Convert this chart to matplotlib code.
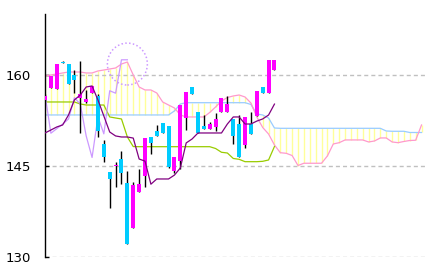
import matplotlib
matplotlib.use("Agg")
import matplotlib.pyplot as plt
from matplotlib.patches import Ellipse
import numpy as np

# candles (index 0..39)
opens = [155.9, 157.8, 157.7, 162.2, 161.8, 160.0, 156.2, 155.6, 157.0, 156.6,
         148.7, 144.0, 144.95, 146.2, 142.2, 134.8, 140.7, 143.4, 149.7, 150.8,
         152.1, 151.6, 144.1, 145.9, 152.9, 158.0, 153.85, 151.6, 151.15, 151.4,
         153.85, 153.95, 152.75, 151.9, 148.45, 151.9, 153.2, 158.1, 157.0, 160.8]
highs = [156.8, 159.9, 161.8, 162.3, 161.8, 160.8, 162.3, 157.5, 158.2, 156.8,
         149.3, 144.0, 145.7, 147.4, 144.1, 142.3, 144.5, 149.6, 149.7, 151.8,
         152.1, 151.6, 146.5, 155.0, 157.2, 158.0, 153.85, 153.4, 152.3, 153.7,
         156.25, 156.5, 152.75, 153.4, 153.1, 153.9, 157.4, 158.1, 162.5, 162.5]
lows = [155.7, 157.8, 157.7, 161.9, 158.5, 157.0, 150.4, 155.4, 157.0, 149.8,
        145.6, 138.1, 141.6, 142.0, 132.2, 134.8, 140.7, 141.5, 147.0, 149.9,
        150.4, 144.7, 143.9, 144.5, 150.9, 156.8, 150.4, 151.15, 151.15, 150.7,
        153.85, 153.95, 148.6, 146.4, 147.9, 150.3, 153.2, 157.0, 157.0, 160.8]
closes = [156.6, 159.9, 161.8, 161.95, 158.5, 159.2, 156.9, 156.0, 158.2, 150.8,
          146.5, 142.9, 145.15, 143.9, 132.2, 141.9, 142.1, 149.6, 148.8, 149.9,
          150.4, 144.9, 146.5, 155.0, 157.2, 156.8, 150.4, 151.15, 151.9, 152.75,
          156.25, 155.2, 149.95, 146.4, 153.1, 150.3, 157.4, 157.0, 162.5, 162.5]

# conversion / base lines (index 0..39)
tenkan = [150.44, 150.93, 151.43, 151.76, 153.41, 155.89, 156.70, 158.02, 158.19, 155.88,
          153.24, 150.60, 149.95, 149.78, 149.78, 149.60, 146.15, 145.80, 142.00, 142.86,
          142.86, 142.86, 143.50, 144.67, 148.80, 149.45, 150.44, 150.44, 150.44, 150.44,
          150.44, 151.92, 153.08, 153.08, 151.92, 151.92, 152.40, 152.75, 153.40, 155.20]
kijun = [155.55, 155.55, 155.55, 155.55, 155.55, 155.55, 155.22, 155.05, 155.05, 155.05,
         155.05, 153.08, 152.91, 152.75, 149.78, 148.20, 148.18, 148.18, 148.18, 148.18,
         148.18, 148.18, 148.18, 148.18, 148.18, 148.18, 148.18, 148.18, 148.18, 147.88,
         147.26, 147.14, 146.24, 146.10, 145.71, 145.71, 145.71, 145.77, 145.99, 148.21]

# leading spans (index 0..64)
span_a = [153.41] * 22 + [154.07, 155.22] + [155.43] * 11 + \
         [155.14, 153.57, 153.41, 152.91, 151.26] + [151.21] * 18 + \
         [150.77, 150.72, 150.72, 150.72, 150.52, 150.52, 150.52]
span_b = [159.83, 160.00, 160.16, 160.33, 160.49, 160.49, 160.49, 160.33, 160.33, 160.66,
          160.82, 160.99, 161.15, 161.81, 162.14, 160.00, 158.02, 157.53, 157.53, 157.03,
          155.55, 155.05, 154.56, 153.41, 153.08, 153.08, 153.08, 153.08, 153.82, 154.73,
          155.71, 156.29, 156.54, 156.70, 156.37, 155.38, 153.08, 151.35, 150.27, 148.46,
          147.19, 147.09, 146.73, 145.08, 145.45, 145.45, 145.45, 145.45, 146.65, 148.63,
          148.84, 149.29, 149.29, 149.29, 149.29, 148.96, 149.12, 149.62, 149.62, 148.96,
          148.84, 149.04, 149.20, 149.24, 151.76]
lag = 25
yticks = [130, 145, 160]

opens = np.array(opens); closes = np.array(closes)
idx = np.arange(len(opens))
cloud_idx = np.arange(len(span_a))
chikou = closes[lag:]
chikou_idx = np.arange(len(chikou))

fig = plt.figure(figsize=(4.32, 2.71), dpi=100)
ax = fig.add_axes([45 / 432, 14 / 271, 383 / 432, 242.7 / 271])

# cloud hatching
ax.vlines(cloud_idx, span_a, span_b, color="#ffff99", lw=1, zorder=1)
for y in yticks:
    ax.axhline(y, color="#c0c0c0", lw=1, dashes=(2.9, 2.2), zorder=1.5)

ax.plot(cloud_idx, span_a, color="#99ccff", lw=0.9, zorder=2)
ax.plot(cloud_idx, span_b, color="#ff99cc", lw=0.9, zorder=2)
ax.plot(idx, kijun, color="#99cc00", lw=0.9, zorder=2)
ax.plot(chikou_idx, chikou, color="#cc99ff", lw=0.9, zorder=2)

# candles
ax.vlines(idx, lows, highs, color="black", lw=1, zorder=3)
cols = np.where(closes >= opens, "#ff00ff", "#00ccff")
ax.bar(idx, closes - opens, bottom=opens, width=0.68, color=cols, lw=0, zorder=4)
ax.plot(idx, tenkan, color="#800080", lw=0.9, zorder=5)

# circle round the end of the lagging line
ax.add_patch(Ellipse((chikou_idx[-1], 161.8), 6.8, 6.9, fill=False,
                     ec="#cc99ff", lw=1.1, ls=(0, (1, 1.5)), zorder=6))

ax.set_xlim(0, 65.1)
ax.set_ylim(130, 170)
ax.set_yticks(yticks)
ax.set_yticklabels([str(t) for t in yticks],
                   family=["Liberation Sans Narrow", "DejaVu Sans Condensed", "DejaVu Sans"],
                   fontsize=9.5)
ax.tick_params(axis="y", direction="in", length=3, width=1, pad=10)
ax.set_xticks([])
for s in ["top", "right", "bottom"]:
    ax.spines[s].set_visible(False)
ax.spines["left"].set_linewidth(1)

fig.savefig("out.png", dpi=100)
